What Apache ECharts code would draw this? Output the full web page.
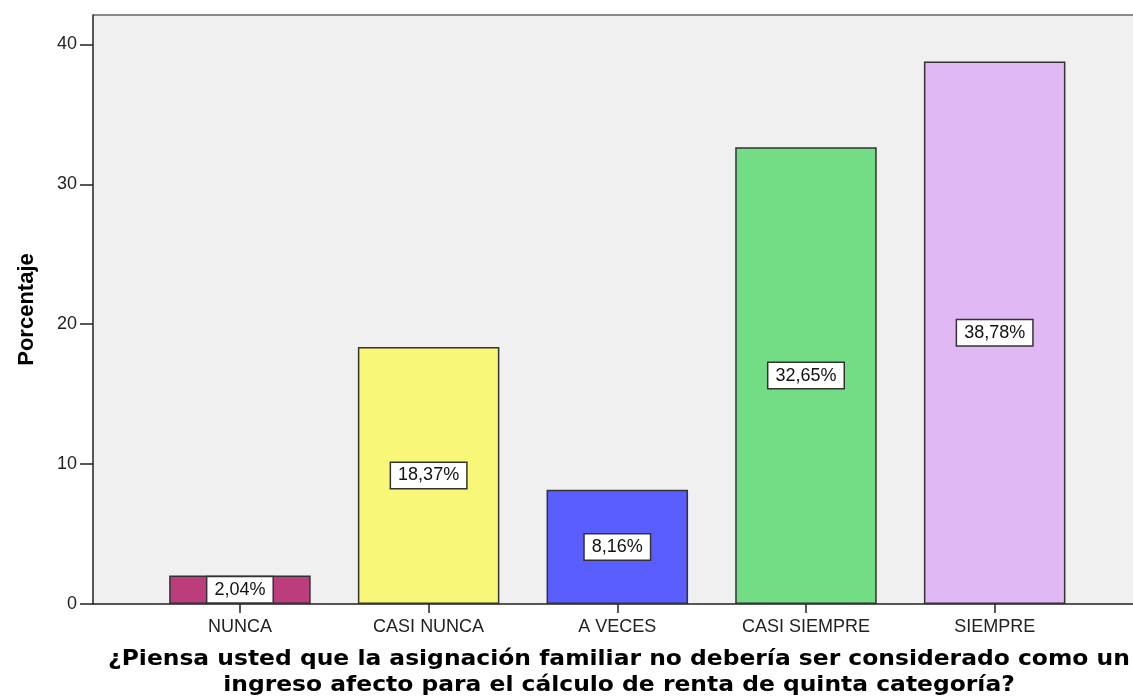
<!DOCTYPE html>
<html><head><meta charset="utf-8">
<script src="https://cdn.jsdelivr.net/npm/echarts@6/dist/echarts.min.js"></script>
<style>html,body{margin:0;padding:0;background:#fff}#c{width:1133px;height:698px}</style>
</head><body><div id="c"></div>
<script>
const categories = ['NUNCA','CASI NUNCA','A VECES','CASI SIEMPRE','SIEMPRE'];
const values = [2.04, 18.37, 8.16, 32.65, 38.78];
const labels = ['2,04%','18,37%','8,16%','32,65%','38,78%'];
const colors = ['#bb3d7c','#f8f778','#5a5eff','#72dd84','#dfb8f4'];
const yTicks = [0,10,20,30,40];
const xTitle = '¿Piensa usted que la asignación familiar no debería ser considerado como un\ningreso afecto para el cálculo de renta de quinta categoría?';
const yTitle = 'Porcentaje';

const chart = echarts.init(document.getElementById('c'));
const yMax = 42.1;
chart.setOption({
  animation:false,
  grid:[
    {left:93, right:0, top:15, bottom:94, show:true, backgroundColor:'#f0f0f0', borderWidth:0},
    {left:145.6, right:44, top:15, bottom:94}
  ],
  xAxis:[
    {gridIndex:0, type:'value', min:0, max:1, axisLine:{show:true, onZero:false, lineStyle:{color:'#222',width:1.5}}, axisTick:{show:false}, axisLabel:{show:false}, splitLine:{show:false}, position:'bottom'},
    {gridIndex:1, type:'category', data:categories, axisLine:{show:false}, axisTick:{show:true, alignWithLabel:true, length:9, lineStyle:{color:'#222',width:1.5}},
     axisLabel:{color:'#222', fontFamily:'Liberation Sans', fontSize:18, margin:14}, splitLine:{show:false}}
  ],
  yAxis:[
    {gridIndex:0, type:'value', min:0, max:yMax, interval:10,
     axisLine:{show:true, lineStyle:{color:'#222',width:1.5}}, axisTick:{show:true, length:13, lineStyle:{color:'#222',width:1.5}},
     axisLabel:{color:'#222', fontFamily:'Liberation Sans', fontSize:18, margin:16, showMaxLabel:false, formatter: v => yTicks.includes(v) ? String(v) : ''},
     splitLine:{show:false},
     name:yTitle, nameLocation:'middle', nameGap:55, nameTextStyle:{fontFamily:'Liberation Sans', fontWeight:'bold', fontSize:22, color:'#000'}},
    {gridIndex:1, type:'value', min:0, max:yMax, show:false, splitLine:{show:false}}
  ],
  graphic:[
    {type:'line', shape:{x1:93,y1:15,x2:1133,y2:15}, style:{stroke:'#8a8a8a', lineWidth:2}},
    {type:'text', x:619, y:673, scaleX:1.115, scaleY:1,
     style:{text:xTitle, x:0, y:0, align:'center', verticalAlign:'middle',
       fontFamily:'DejaVu Sans', fontWeight:'bold', fontSize:21, lineHeight:26, fill:'#000'}}
  ],
  series:[{
    type:'bar', xAxisIndex:1, yAxisIndex:1, barWidth:'75%',
    data: values.map((v,i)=>({value:v, itemStyle:{color:colors[i]}, label:{formatter:labels[i]}})),
    itemStyle:{borderColor:'#333', borderWidth:1.5},
    label:{show:true, position:'inside', color:'#111', fontFamily:'Liberation Sans', fontSize:18,
      backgroundColor:'#fff', borderColor:'#333', borderWidth:1.5, padding:[4,7,3,7]}
  }]
});
</script></body></html>
